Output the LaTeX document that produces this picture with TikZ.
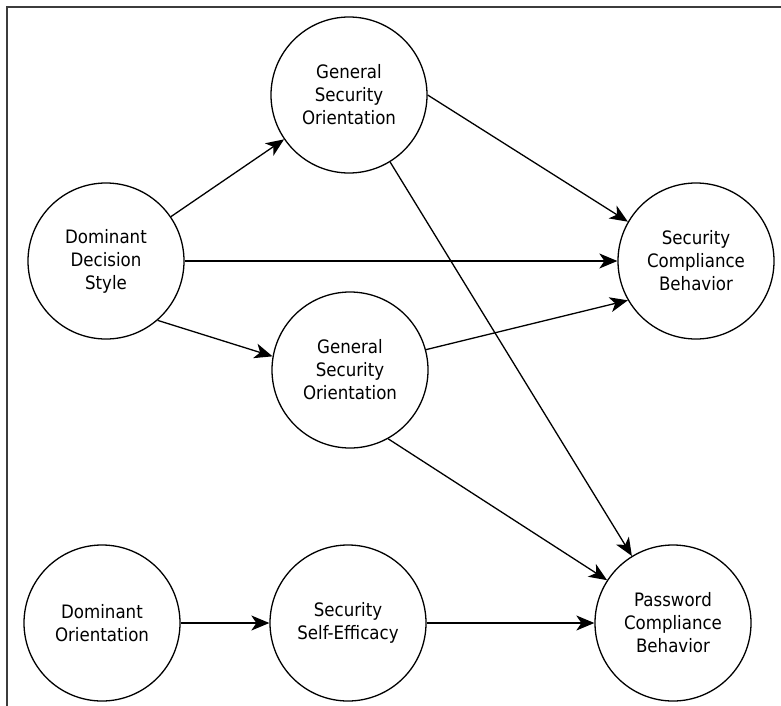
\documentclass[tikz,border=0pt]{standalone}
\usepackage{fontspec}
\setmainfont{DejaVu Sans Condensed}
\usetikzlibrary{arrows.meta, positioning}
\definecolor{framegray}{RGB}{60, 60, 60}

\begin{document}
\begin{tikzpicture}[
    x=1pt, y=-1pt,
    construct/.style={circle, draw=black, line width=1.3pt, minimum size=156pt, inner sep=0pt, align=center, font=\fontsize{18.5}{23}\selectfont},
    arrow/.style={-{Stealth[length=18pt, width=15pt, inset=5pt]}, line width=1.3pt},
]
\useasboundingbox (0,0) rectangle (781,706);

% Frame
\draw[framegray, line width=1.8pt] (7,706) -- (7,7) -- (781,7);

% Constructs
\node[construct] (dds) at (106,261) {Dominant\\Decision\\Style};
\node[construct] (gso1) at (349,95) {General\\Security\\Orientation};
\node[construct] (gso2) at (350,370) {General\\Security\\Orientation};
\node[construct] (scb) at (696,261) {Security\\Compliance\\Behavior};
\node[construct] (dor) at (102,623) {Dominant\\Orientation};
\node[construct] (sse) at (348,623) {Security\\Self-Efficacy};
\node[construct] (pcb) at (673,623) {Password\\Compliance\\Behavior};

% Paths
\draw[arrow] (dds) -- (gso1);
\draw[arrow] (dds.east) -- (scb.west);
\draw[arrow] (dds.-49) -- (gso2.170);
\draw[arrow] (gso1.east) -- (scb.150);
\draw[arrow] (gso1) -- (pcb);
\draw[arrow] (gso2.15) -- (scb.-150);
\draw[arrow] (gso2.-61) -- (pcb.147);
\draw[arrow] (dor.east) -- (sse.west);
\draw[arrow] (sse.east) -- (pcb.west);

\end{tikzpicture}
\end{document}
